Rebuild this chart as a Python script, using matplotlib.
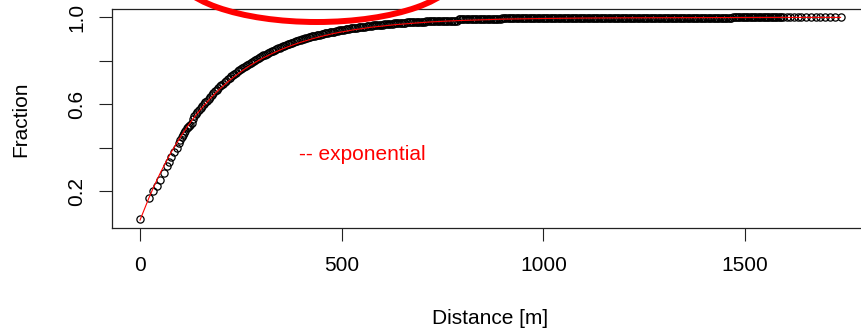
import matplotlib
matplotlib.use('Agg')
import matplotlib.pyplot as plt
import matplotlib.patches as patches

plt.rcParams['font.family'] = ['Liberation Sans', 'DejaVu Sans']
plt.rcParams['font.size'] = 15

near_x = [0, 22, 33, 42, 50, 59, 68, 73, 78, 85, 91, 97, 100, 103, 106, 109,
          112, 116, 119, 122, 125, 128, 131]
near_y = [0.07, 0.166, 0.20, 0.225, 0.25, 0.285, 0.317, 0.335, 0.358, 0.38,
          0.397, 0.42, 0.437, 0.45, 0.458, 0.465, 0.476, 0.489, 0.495, 0.50,
          0.506, 0.512, 0.530]

mid_x = [134, 138, 142, 146, 150, 154, 158, 162, 166, 170,
         174, 178, 182, 186, 190, 194, 198, 202, 206, 210,
         214, 218, 222, 226, 230, 234, 238, 242, 246, 250,
         254, 258, 262, 266, 270, 274, 278, 282, 286, 290,
         294, 298, 302, 306, 310, 314, 318, 322, 326, 330,
         334, 338, 342, 346, 350, 354, 358, 362, 366, 370,
         374, 378, 382, 386, 390, 394, 398, 402, 406, 410,
         414, 418, 422, 426, 430, 434, 438, 442, 446, 450,
         454, 458, 462, 466, 470, 474, 478, 482, 486, 490,
         494, 498, 502]
mid_y = [0.545, 0.553, 0.562, 0.572, 0.582, 0.591, 0.600, 0.608, 0.617, 0.625,
         0.634, 0.642, 0.651, 0.659, 0.667, 0.674, 0.682, 0.688, 0.695, 0.702,
         0.709, 0.715, 0.722, 0.728, 0.734, 0.740, 0.746, 0.751, 0.757, 0.762,
         0.767, 0.772, 0.777, 0.782, 0.787, 0.791, 0.796, 0.800, 0.805, 0.809,
         0.813, 0.817, 0.822, 0.825, 0.829, 0.833, 0.837, 0.840, 0.844, 0.847,
         0.851, 0.854, 0.858, 0.861, 0.864, 0.867, 0.870, 0.873, 0.876, 0.879,
         0.882, 0.884, 0.887, 0.889, 0.892, 0.894, 0.897, 0.899, 0.901, 0.903,
         0.906, 0.908, 0.910, 0.912, 0.914, 0.916, 0.918, 0.919, 0.921, 0.922,
         0.924, 0.926, 0.928, 0.929, 0.931, 0.932, 0.934, 0.935, 0.937, 0.938,
         0.940, 0.941, 0.943]

knee_x = [506, 510, 514, 518, 522, 526, 530, 534, 538, 542,
          546, 550, 554, 558, 562, 566, 570, 574, 578, 582,
          586, 590, 594, 598, 602, 606, 610, 614, 618, 622,
          626, 630, 634, 638, 642, 646, 650, 654, 658, 662,
          666, 670, 674, 678, 682, 686, 690, 694, 698, 702,
          706, 710, 714, 718, 722, 726, 730, 734, 738, 742,
          746, 750, 754, 758, 762, 766, 770, 774, 778, 782,
          786]
knee_y = [0.944, 0.945, 0.946, 0.947, 0.949, 0.950, 0.951, 0.952, 0.953, 0.954,
          0.955, 0.956, 0.957, 0.958, 0.959, 0.960, 0.961, 0.962, 0.963, 0.963,
          0.964, 0.965, 0.966, 0.967, 0.967, 0.968, 0.969, 0.969, 0.970, 0.971,
          0.971, 0.972, 0.973, 0.973, 0.974, 0.975, 0.975, 0.976, 0.976, 0.977,
          0.977, 0.978, 0.978, 0.979, 0.979, 0.980, 0.980, 0.980, 0.981, 0.981,
          0.981, 0.982, 0.982, 0.982, 0.982, 0.983, 0.983, 0.983, 0.983, 0.984,
          0.984, 0.984, 0.984, 0.984, 0.985, 0.985, 0.985, 0.985, 0.985, 0.985,
          0.985]

far_x = [790, 794, 798, 802, 806, 810, 814, 818, 822, 826,
         830, 834, 838, 842, 846, 850, 854, 858, 862, 866,
         870, 874, 878, 882, 886, 890, 894, 898, 902, 906,
         910, 914, 918, 922, 926, 930, 934, 938, 942, 946,
         950, 954, 958, 962, 966, 970, 974, 978, 982, 986,
         990, 994, 998, 1002, 1006, 1010, 1014, 1018, 1022, 1026,
         1030, 1034, 1038, 1042, 1046, 1050, 1054, 1058, 1062, 1066,
         1070, 1074, 1078, 1082, 1086, 1090, 1094, 1098, 1102, 1106,
         1110, 1114, 1118, 1122, 1126, 1130, 1134, 1138, 1142, 1146,
         1150, 1154, 1158, 1162, 1166, 1170, 1174, 1178, 1182, 1186,
         1190, 1194, 1198, 1202, 1206, 1210, 1214, 1218, 1222, 1226,
         1230, 1234, 1238, 1242, 1246, 1250, 1254, 1258, 1262, 1266,
         1270, 1274, 1278, 1282, 1286, 1290, 1294, 1298, 1302, 1306,
         1310, 1314, 1318, 1322, 1326, 1330, 1334, 1338, 1342, 1346,
         1350, 1354, 1358, 1362, 1366, 1370, 1374, 1378, 1382, 1386,
         1390, 1394, 1398, 1402, 1406, 1410, 1414, 1418, 1422, 1426,
         1430, 1434, 1438, 1442, 1446, 1450, 1454, 1458, 1462, 1466,
         1470, 1474, 1478, 1482, 1486, 1490, 1494, 1498, 1502, 1506,
         1510, 1514, 1518, 1522, 1526, 1530, 1534, 1538, 1542, 1546,
         1550, 1554, 1558, 1562, 1566, 1570, 1574, 1578, 1582, 1586,
         1590, 1594]
far_y = [0.991, 0.991, 0.991, 0.992, 0.992, 0.992, 0.992, 0.992, 0.992, 0.992,
         0.993, 0.993, 0.993, 0.993, 0.993, 0.993, 0.994, 0.994, 0.994, 0.994,
         0.994, 0.994, 0.994, 0.994, 0.994, 0.994, 0.994, 0.995, 0.995, 0.995,
         0.995, 0.995, 0.995, 0.995, 0.995, 0.995, 0.995, 0.995, 0.995, 0.995,
         0.995, 0.995, 0.995, 0.995, 0.995, 0.996, 0.996, 0.996, 0.996, 0.996,
         0.996, 0.996, 0.996, 0.996, 0.996, 0.996, 0.996, 0.996, 0.996, 0.996,
         0.997, 0.997, 0.997, 0.997, 0.997, 0.997, 0.997, 0.997, 0.997, 0.997,
         0.997, 0.997, 0.997, 0.997, 0.997, 0.997, 0.997, 0.997, 0.997, 0.997,
         0.998, 0.998, 0.998, 0.998, 0.998, 0.998, 0.998, 0.998, 0.998, 0.998,
         0.998, 0.998, 0.998, 0.998, 0.998, 0.998, 0.998, 0.998, 0.998, 0.998,
         0.998, 0.998, 0.998, 0.998, 0.998, 0.998, 0.998, 0.998, 0.998, 0.998,
         0.999, 0.999, 0.999, 0.999, 0.999, 0.999, 0.999, 0.999, 0.999, 0.999,
         0.999, 0.999, 0.999, 0.999, 0.999, 0.999, 0.999, 0.999, 0.999, 0.999,
         0.999, 0.999, 0.999, 0.999, 0.999, 0.999, 0.999, 0.999, 0.999, 0.999,
         0.999, 0.999, 0.999, 0.999, 0.999, 0.999, 0.999, 0.999, 0.999, 0.999,
         0.999, 0.999, 0.999, 0.999, 0.999, 0.999, 0.999, 0.999, 0.999, 0.999,
         0.999, 0.999, 0.999, 0.999, 0.999, 0.999, 0.999, 0.999, 0.999, 0.999,
         1.0, 1.0, 1.0, 1.0, 1.0, 1.0, 1.0, 1.0, 1.0, 1.0,
         1.0, 1.0, 1.0, 1.0, 1.0, 1.0, 1.0, 1.0, 1.0, 1.0,
         1.0, 1.0, 1.0, 1.0, 1.0, 1.0, 1.0, 1.0, 1.0, 1.0,
         1.0, 1.0]

tail_x = [1604, 1612, 1622, 1631, 1640, 1652, 1663, 1675, 1686, 1698, 1710, 1722, 1737]
tail_y = [1.0, 1.0, 1.0, 1.0, 1.0, 1.0, 1.0, 1.0, 1.0, 1.0, 1.0, 1.0, 1.0]

# exponential fit (red line)
fit_x = [0, 22, 33, 42, 50, 59, 68, 78, 91, 103, 116, 128, 142, 158, 174, 190,
         206, 222, 238, 254, 270, 286, 302, 318, 334, 350, 366, 382, 398, 414,
         430, 446, 462, 478, 494, 510, 530, 550, 570, 590, 610, 630, 650, 670,
         690, 720, 760, 800, 850, 900, 1000, 1100, 1200, 1400, 1600, 1737]
fit_y = [0.066, 0.168, 0.215, 0.251, 0.282, 0.315, 0.347, 0.381, 0.421, 0.457,
         0.493, 0.524, 0.558, 0.593, 0.626, 0.657, 0.684, 0.710, 0.733, 0.755,
         0.775, 0.793, 0.810, 0.825, 0.839, 0.852, 0.864, 0.875, 0.885, 0.894,
         0.903, 0.911, 0.918, 0.925, 0.931, 0.936, 0.943, 0.948, 0.954, 0.958,
         0.962, 0.966, 0.969, 0.972, 0.975, 0.979, 0.983, 0.986, 0.989, 0.992,
         0.995, 0.997, 0.998, 0.999, 1.0, 1.0]

xticks = [0, 500, 1000, 1500]
yticks = [0.2, 0.4, 0.6, 0.8, 1.0]
ytick_labels = ['0.2', '', '0.6', '', '1.0']

dist_m = near_x + mid_x + knee_x + far_x + tail_x
frac = near_y + mid_y + knee_y + far_y + tail_y

W, H = 861, 335
fig = plt.figure(figsize=(W / 100, H / 100), dpi=100)
ax = fig.add_axes([112 / W, 107 / H, 756 / W, 219 / H])

ax.plot(dist_m, frac, 'o', mfc='none', mec='black', ms=5.2, mew=0.9)
ax.plot(fit_x, fit_y, color='red', lw=0.8)

ax.set_xlim(-69.5, 1805)
ax.set_ylim(0.0295, 1.0387)
ax.set_xticks(xticks)
ax.set_xticklabels([str(t) for t in xticks])
ax.set_yticks(yticks)
ax.set_yticklabels(ytick_labels, rotation=90, va='center')
ax.tick_params(axis='both', length=9.7, width=0.8, color='#222222')
ax.tick_params(axis='x', pad=10.8)
ax.tick_params(axis='y', pad=9)
for sp in ax.spines.values():
    sp.set_color('#222222')
    sp.set_linewidth(0.9)

ax.text(394, 0.366, '-- exponential', color='red', ha='left', va='center')

fig.text(490 / W, 1 - 319 / H, 'Distance [m]', ha='center', va='center')
fig.text(21 / W, 1 - 119 / H, 'Fraction', rotation=90, ha='center', va='center')

# hand-drawn style highlight, cut off by the top edge
ell = patches.Ellipse((317 / W, 1 + 28 / H), 282 / W, 100 / H, transform=fig.transFigure,
                      fill=False, ec='red', lw=4.3, clip_on=False)
fig.add_artist(ell)

fig.savefig('out.png', dpi=100)
